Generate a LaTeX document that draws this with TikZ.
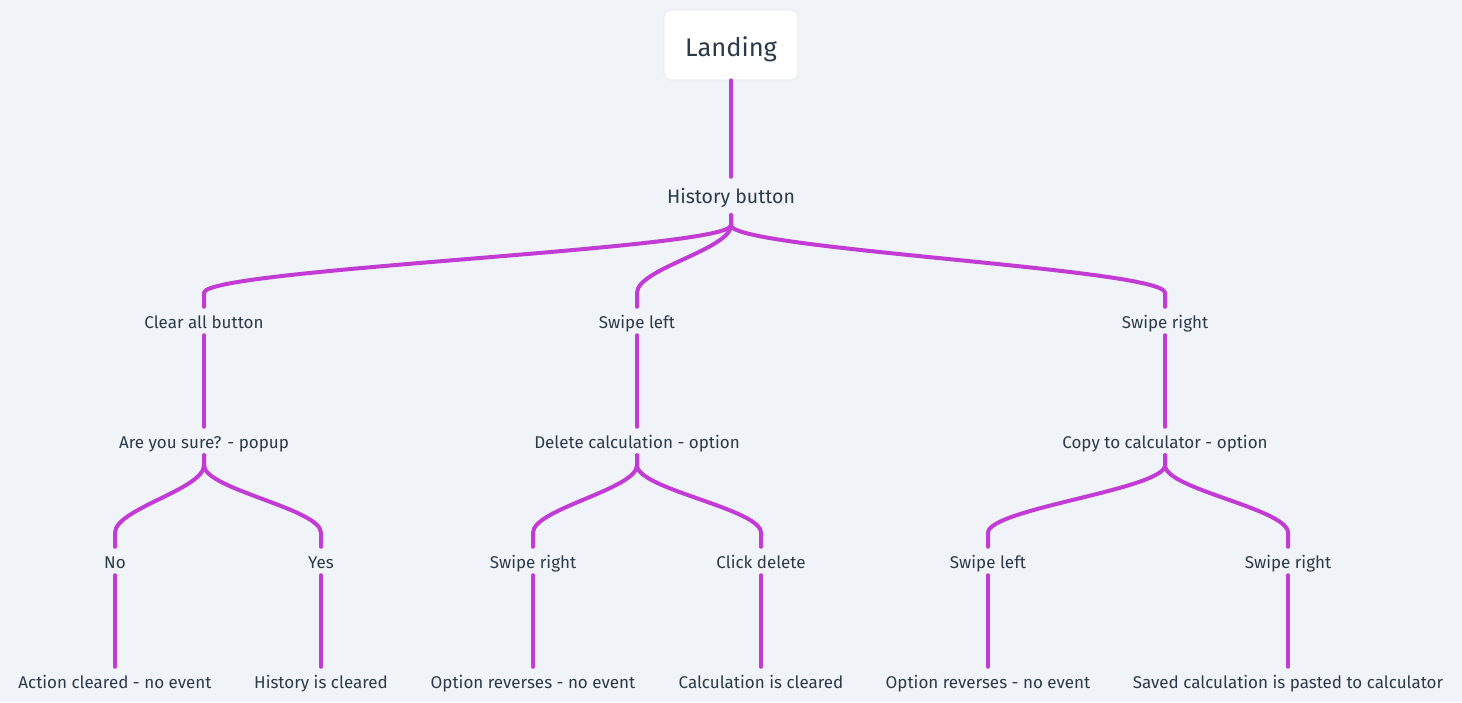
\documentclass[tikz,border=0pt]{standalone}
\usepackage{fontspec}
\setmainfont{Fira Sans}
\usetikzlibrary{calc}
\definecolor{bg}{HTML}{F0F4F8}
\definecolor{ink}{HTML}{2B3A4A}
\definecolor{link}{HTML}{C23BD4}
\definecolor{boxedge}{HTML}{E2E6EA}
\tikzset{
  lbl/.style={inner sep=0pt, minimum height=28pt, text height=14pt, text depth=0pt,
     text=ink, font=\fontsize{17}{20}\selectfont},
  hub/.style={lbl, minimum height=38pt, font=\fontsize{19.5}{23}\selectfont},
  rootbox/.style={fill=white, draw=boxedge, line width=0.6pt, rounded corners=7pt,
     minimum width=134pt, minimum height=70pt, text height=22pt, text depth=0pt,
     text=ink, font=\fontsize{25.5}{30}\selectfont},
  conn/.style={draw=link, line width=4pt, line cap=round, line join=round},
}
\newcommand{\branch}[2]{%
  \draw[conn] (#1.south) -- ++(0,10) .. controls +(0,24) and +(0,-24) .. ($(#2.north)+(0,-14)$) -- (#2.north);}
\begin{document}
\begin{tikzpicture}[x=1pt,y=-1pt]
\useasboundingbox[fill=bg] (0,0) rectangle (1462,702);
\node[rootbox] (land) at (731,45) {Landing};
\node[hub] (hist) at (731,196) {History button};
\node[lbl] (clear) at (204,321) {Clear all button};
\node[lbl] (sl) at (637,321) {Swipe left};
\node[lbl] (sr) at (1165,321) {Swipe right};
\node[lbl] (sure) at (204,441) {Are you sure? - popup};
\node[lbl] (del) at (637,441) {Delete calculation - option};
\node[lbl] (copy) at (1165,441) {Copy to calculator - option};
\node[lbl] (no) at (115,561) {No};
\node[lbl] (yes) at (321,561) {Yes};
\node[lbl] (dsr) at (533,561) {Swipe right};
\node[lbl] (cd) at (761,561) {Click delete};
\node[lbl] (csl) at (988,561) {Swipe left};
\node[lbl] (csr) at (1288,561) {Swipe right};
\node[lbl] (r1) at (115,681) {Action cleared - no event};
\node[lbl] (r2) at (321,681) {History is cleared};
\node[lbl] (r3) at (533,681) {Option reverses - no event};
\node[lbl] (r4) at (761,681) {Calculation is cleared};
\node[lbl] (r5) at (988,681) {Option reverses - no event};
\node[lbl] (r6) at (1288,681) {Saved calculation is pasted to calculator};
\draw[conn] (land.south) -- (hist.north);
\branch{hist}{clear}
\branch{hist}{sl}
\branch{hist}{sr}
\draw[conn] (clear.south) -- (sure.north);
\draw[conn] (sl.south) -- (del.north);
\draw[conn] (sr.south) -- (copy.north);
\branch{sure}{no}
\branch{sure}{yes}
\branch{del}{dsr}
\branch{del}{cd}
\branch{copy}{csl}
\branch{copy}{csr}
\draw[conn] (no.south) -- (r1.north);
\draw[conn] (yes.south) -- (r2.north);
\draw[conn] (dsr.south) -- (r3.north);
\draw[conn] (cd.south) -- (r4.north);
\draw[conn] (csl.south) -- (r5.north);
\draw[conn] (csr.south) -- (r6.north);
\end{tikzpicture}
\end{document}
